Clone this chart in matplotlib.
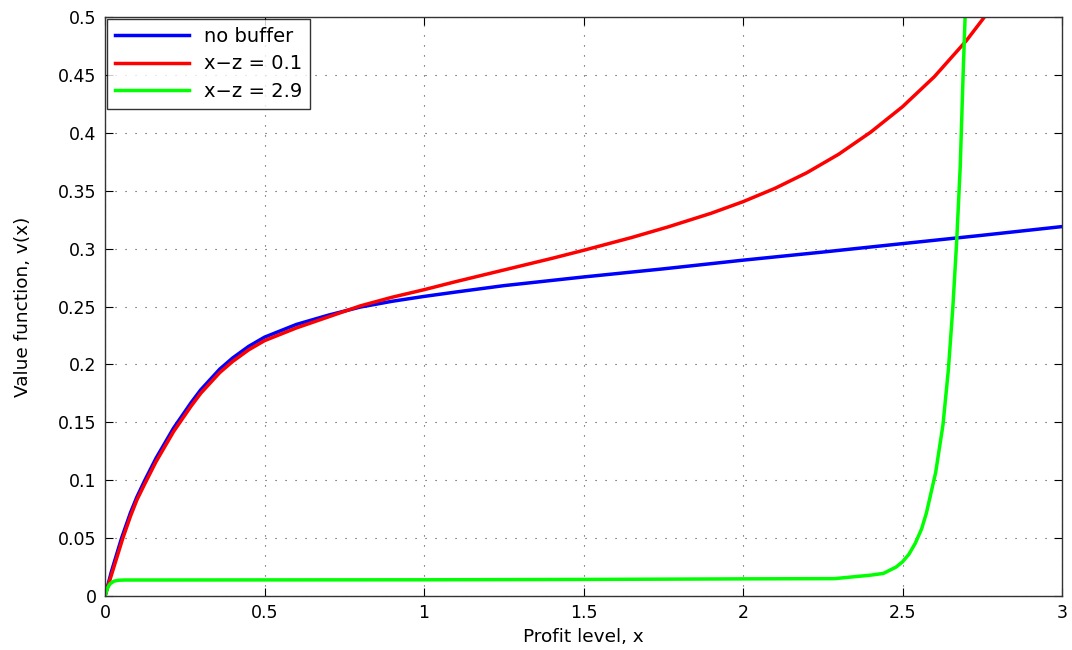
import matplotlib
matplotlib.use("Agg")
import matplotlib.pyplot as plt

plt.rcParams['font.family'] = ['DejaVu Sans']

# no buffer
x_blue = [0.0, 0.02, 0.052, 0.08, 0.1, 0.125, 0.16, 0.215, 0.27, 0.3, 0.36, 0.4, 0.45, 0.5, 0.6, 0.7, 0.8, 0.9, 1.0,
          1.1, 1.25, 1.5, 1.75, 2.0, 2.25, 2.5, 2.75, 3.0]
v_blue = [0.0, 0.021, 0.05, 0.072, 0.0855, 0.1, 0.119, 0.145, 0.167, 0.178, 0.196, 0.2055, 0.2155, 0.2235, 0.2345, 0.2425, 0.2495, 0.2545, 0.2587,
          0.2625, 0.268, 0.2755, 0.2825, 0.29, 0.297, 0.3043, 0.3115, 0.319]

# x-z = 0.1
x_red = [0.0, 0.02, 0.056, 0.08, 0.1, 0.125, 0.16, 0.215, 0.27, 0.3, 0.36, 0.4, 0.45, 0.5, 0.6, 0.7, 0.8, 0.9, 1.0,
         1.1, 1.25, 1.4, 1.5, 1.65, 1.766, 1.9, 2.0, 2.1, 2.2, 2.3, 2.4, 2.5, 2.6, 2.7, 2.75, 2.78]
v_red = [0.0, 0.018, 0.05, 0.069, 0.083, 0.097, 0.116, 0.142, 0.164, 0.175, 0.193, 0.2025, 0.2125, 0.2205, 0.2315, 0.241, 0.2505, 0.258, 0.2645,
         0.2715, 0.2815, 0.2915, 0.2985, 0.3095, 0.3188, 0.3305, 0.3405, 0.352, 0.3655, 0.3815, 0.4005, 0.4225, 0.4485, 0.4795, 0.4975, 0.509]

# x-z = 2.9
x_green = [0.0, 0.008, 0.016, 0.028, 0.042, 0.06, 0.5, 1.0, 1.5, 2.0, 2.287, 2.4, 2.44, 2.48, 2.5, 2.52, 2.54, 2.56, 2.575, 2.604,
           2.627, 2.644, 2.658, 2.670, 2.681, 2.690, 2.696, 2.70]
v_green = [0.0, 0.007, 0.0106, 0.0128, 0.0136, 0.0138, 0.0139, 0.014, 0.0143, 0.0148, 0.015, 0.018, 0.0195, 0.025, 0.0295, 0.036, 0.0455, 0.058, 0.0717, 0.1067,
           0.148, 0.196, 0.25, 0.307, 0.371, 0.45, 0.498, 0.52]

labels = ['no buffer', 'x\u2212z = 0.1', 'x\u2212z = 2.9']
x_ticks = [0, 0.5, 1, 1.5, 2, 2.5, 3]
x_tick_labels = ['0', '0.5', '1', '1.5', '2', '2.5', '3']
y_ticks = [0, 0.05, 0.1, 0.15, 0.2, 0.25, 0.3, 0.35, 0.4, 0.45, 0.5]
y_tick_labels = ['0', '0.05', '0.1', '0.15', '0.2', '0.25', '0.3', '0.35', '0.4', '0.45', '0.5']

fig = plt.figure(figsize=(10.72, 6.5), dpi=100)
ax = fig.add_axes([105/1072, 54/650, (1062-105)/1072, (596-17)/650])

lw = 2.5
ax.plot(x_blue, v_blue, color='#0000ff', lw=lw, label=labels[0])
ax.plot(x_red, v_red, color='#ff0000', lw=lw, label=labels[1])
ax.plot(x_green, v_green, color='#00ff00', lw=lw, label=labels[2])

ax.set_xlim(0, 3)
ax.set_ylim(0, 0.5)
ax.set_xticks(x_ticks)
ax.set_xticklabels(x_tick_labels)
ax.set_yticks(y_ticks)
ax.set_yticklabels(y_tick_labels)
ax.tick_params(direction='in', length=6, width=0.8, top=True, right=True, labelsize=12.5, colors='black', pad=6)
ax.grid(True, linestyle=(0, (1, 8)), color='#444444', linewidth=0.8)
for s in ax.spines.values():
    s.set_color('#333333')
    s.set_linewidth(1.0)

ax.set_xlabel('Profit level, x', fontsize=13.3, labelpad=4)
ax.set_ylabel('Value function, v(x)', fontsize=13.3, labelpad=19)

leg = ax.legend(loc='upper left', fontsize=14, frameon=True, fancybox=False,
                edgecolor='black', handlelength=3.8, borderaxespad=0.1,
                labelspacing=0.45, handletextpad=0.8, borderpad=0.4)
leg.get_frame().set_linewidth(1.0)

fig.savefig('out.png', dpi=100, facecolor='white')
